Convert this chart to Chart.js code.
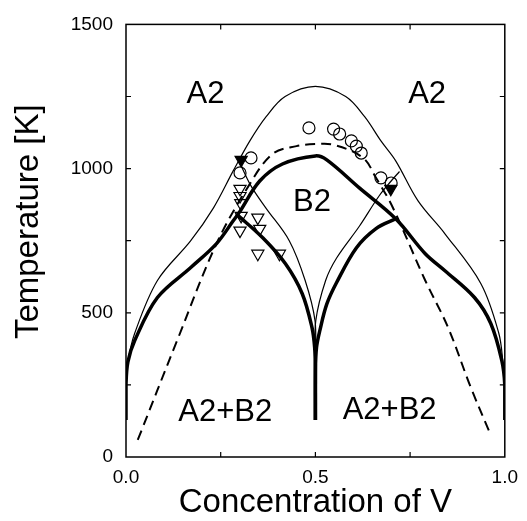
<!DOCTYPE html>
<html>
<head>
<meta charset="utf-8">
<script src="https://cdn.jsdelivr.net/npm/chart.js@4/dist/chart.umd.min.js"></script>
<style>
  html, body { margin: 0; padding: 0; background: #fff; }
  #wrap { width: 527px; height: 521px; }
</style>
</head>
<body>
<div id="wrap"><canvas id="phase"></canvas></div>
<script>
// ---------------- Data (x = concentration of V, T in K) ----------------
// thin outer curve
const outerX = [0.0, 0.005, 0.023, 0.083, 0.171, 0.231, 0.283, 0.327, 0.37, 0.42, 0.5, 0.58, 0.63, 0.673, 0.712, 0.771, 0.842, 0.937, 0.984, 0.995, 1.0];
const outerT = [250, 330, 429, 612, 750, 864, 992, 1096, 1180, 1250, 1285, 1250, 1180, 1096, 1027, 888, 774, 601, 430, 330, 250];

// thick curve: left wall -> B2 dome -> right wall
const thickX = [0.0, 0.0, 0.005, 0.023, 0.083, 0.171, 0.239, 0.283, 0.30, 0.353, 0.413, 0.5, 0.53, 0.616, 0.712, 0.79, 0.842, 0.92, 0.963, 0.992, 1.0, 1.0];
const thickT = [128, 250, 330, 404, 553, 657, 740, 819, 850, 957, 1016, 1044, 1030, 933, 826, 705, 646, 553, 463, 335, 250, 128];

// thick left arch (junction -> cusp at 0.5)
const archLX = [0.291, 0.361, 0.421, 0.465, 0.491, 0.498, 0.5, 0.5];
const archLT = [843, 760, 670, 567, 449, 380, 300, 128];

// thick right arch (cusp -> junction)
const archRX = [0.5, 0.5, 0.503, 0.512, 0.53, 0.556, 0.608, 0.66, 0.712];
const archRT = [128, 300, 380, 440, 530, 605, 725, 792, 826];

// thin inner left / right arcs
const innerLX = [0.297, 0.33, 0.369, 0.431, 0.473, 0.499, 0.5];
const innerLT = [1030, 940, 864, 750, 612, 473, 350];
const innerRX = [0.5, 0.501, 0.527, 0.556, 0.616, 0.668, 0.70, 0.722];
const innerRT = [350, 473, 612, 690, 800, 905, 957, 990];

// dashed curve
const dashX = [0.031, 0.135, 0.239, 0.327, 0.387, 0.45, 0.5, 0.55, 0.626, 0.66, 0.704, 0.79, 0.85, 0.91, 0.963];
const dashT = [59, 404, 740, 947, 1051, 1078, 1085, 1082, 1037, 968, 866, 612, 450, 242, 76];

// experimental points
const circX = [0.33, 0.301, 0.483, 0.548, 0.564, 0.595, 0.608, 0.621, 0.673, 0.70];
const circT = [1037, 985, 1141, 1137, 1120, 1096, 1078, 1054, 968, 950];
const fTriX = [0.304, 0.699];
const fTriT = [1030, 930];
const oTriX = [0.301, 0.301, 0.303, 0.304, 0.348, 0.301, 0.353, 0.348, 0.405];
const oTriT = [930, 905, 880, 836, 830, 785, 791, 705, 705];

// region labels
const regionNames = ['A2', 'A2', 'B2', 'A2+B2', 'A2+B2'];
const regionX = [0.21, 0.795, 0.491, 0.262, 0.696];
const regionT = [1258, 1258, 881, 156, 162];

// axis ticks
const xMinor = [0.25, 0.5, 0.75];
const yMinor = [250, 500, 750, 1000, 1250];

const FONT = '"Liberation Sans", Arial, Helvetica, sans-serif';

const pts = (xs, ys) => xs.map((x, i) => ({ x, y: ys[i] }));

function lineSet(xs, ys, width, dash) {
  return {
    data: pts(xs, ys),
    borderColor: '#000',
    borderWidth: width,
    borderDash: dash || [],
    pointRadius: 0,
    tension: 0.35,
    fill: false,
  };
}

function markerSet(xs, ys, style, rot, fill, r) {
  return {
    data: pts(xs, ys),
    showLine: false,
    pointStyle: style,
    rotation: rot,
    pointRadius: r,
    pointBorderColor: '#000',
    pointBorderWidth: 1.2,
    pointBackgroundColor: fill,
  };
}

// inward ticks + full frame
const frameTicks = {
  id: 'frameTicks',
  afterDatasetsDraw(chart) {
    const { ctx, chartArea: a, scales: { x, y } } = chart;
    ctx.save();
    ctx.strokeStyle = '#000';
    ctx.lineWidth = 1.5;
    ctx.strokeRect(a.left, a.top, a.right - a.left, a.bottom - a.top);
    ctx.lineWidth = 1.2;
    ctx.beginPath();
    xMinor.forEach(v => {
      const px = x.getPixelForValue(v);
      ctx.moveTo(px, a.bottom); ctx.lineTo(px, a.bottom - 5);
      ctx.moveTo(px, a.top); ctx.lineTo(px, a.top + 5);
    });
    yMinor.forEach(v => {
      const py = y.getPixelForValue(v);
      ctx.moveTo(a.left, py); ctx.lineTo(a.left + 5, py);
      ctx.moveTo(a.right, py); ctx.lineTo(a.right - 5, py);
    });
    ctx.stroke();
    ctx.restore();
  },
};

// region names + y-axis title (sits a bit above the plot centre in the original)
const textLayer = {
  id: 'textLayer',
  afterDatasetsDraw(chart) {
    const { ctx, chartArea: a, scales: { x, y } } = chart;
    ctx.save();
    ctx.fillStyle = '#000';
    ctx.font = '31px ' + FONT;
    ctx.textAlign = 'center';
    ctx.textBaseline = 'middle';
    regionNames.forEach((t, i) => {
      ctx.fillText(t, x.getPixelForValue(regionX[i]), y.getPixelForValue(regionT[i]));
    });
    ctx.translate(29, (a.top + a.bottom) / 2 - 19);
    ctx.rotate(-Math.PI / 2);
    ctx.font = '33px ' + FONT;
    ctx.fillText('Temperature [K]', 0, 0);
    ctx.restore();
  },
};

new Chart(document.getElementById('phase'), {
  type: 'line',
  data: {
    datasets: [
      lineSet(outerX, outerT, 1.2),
      lineSet(innerLX, innerLT, 1.2),
      lineSet(innerRX, innerRT, 1.2),
      lineSet(thickX, thickT, 3.5),
      lineSet(archLX, archLT, 3.5),
      lineSet(archRX, archRT, 3.5),
      lineSet(dashX, dashT, 2, [10, 6]),
      markerSet(circX, circT, 'circle', 0, 'rgba(0,0,0,0)', 6),
      markerSet(oTriX, oTriT, 'triangle', 180, 'rgba(0,0,0,0)', 7),
      markerSet(fTriX, fTriT, 'triangle', 180, '#000', 7),
    ],
  },
  options: {
    responsive: true,
    maintainAspectRatio: false,
    animation: false,
    layout: { padding: { top: 23, right: 16, left: 0, bottom: 0 } },
    plugins: { legend: { display: false }, tooltip: { enabled: false } },
    scales: {
      x: {
        type: 'linear',
        min: 0, max: 1,
        grid: { display: false, drawTicks: false },
        border: { display: false },
        ticks: {
          stepSize: 0.5,
          padding: 9,
          color: '#000',
          font: { family: FONT, size: 19 },
          callback: (v) => v.toFixed(1),
        },
        title: {
          display: true,
          text: 'Concentration of V',
          color: '#000',
          font: { family: FONT, size: 33 },
          padding: { top: 0, bottom: -2 },
        },
        afterFit: (s) => { s.height = 64; },
      },
      y: {
        type: 'linear',
        min: 0, max: 1500,
        grid: { display: false, drawTicks: false },
        border: { display: false },
        ticks: {
          stepSize: 500,
          padding: 13,
          color: '#000',
          font: { family: FONT, size: 19 },
          callback: (v) => String(v),
        },
        afterFit: (s) => { s.width = 126; },
      },
    },
  },
  plugins: [frameTicks, textLayer],
});
</script>
</body>
</html>
